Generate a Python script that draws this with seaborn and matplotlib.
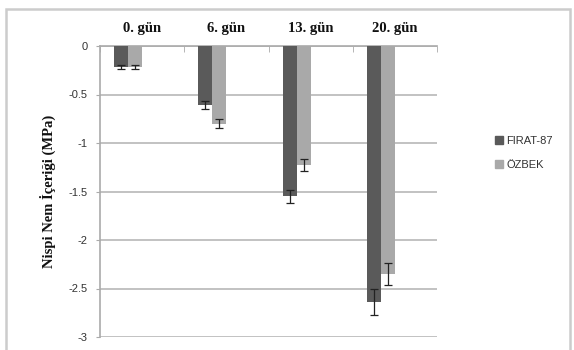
#Import the libraries : Pandas, Matplotlib and Seaborn
import pandas as pd
import matplotlib.pyplot as plt
import matplotlib.patches as mpatches
import seaborn as sns

#Chart data
days = ["0. gün", "6. gün", "13. gün", "20. gün"]
firat_values = [-0.22, -0.61, -1.55, -2.64]
firat_errors = [0.02, 0.04, 0.07, 0.13]
ozbek_values = [-0.22, -0.80, -1.23, -2.35]
ozbek_errors = [0.02, 0.05, 0.06, 0.11]
series = ["FIRAT-87", "ÖZBEK"]
colors = {"FIRAT-87": "#5a5a5a", "ÖZBEK": "#a9a9a9"}

#Build a long table for seaborn
data = pd.DataFrame({
	"day": days * 2,
	"value": firat_values + ozbek_values,
	"err": firat_errors + ozbek_errors,
	"series": [series[0]] * 4 + [series[1]] * 4,
})

sns.set_style("white")

fig = plt.figure(figsize=(5.74, 3.5), dpi=100)
ax = fig.add_axes([100 / 574, 1 - 337 / 350, 337 / 574, 291 / 350])

#Excel-like layout: two hidden slots keep the bars on the left half of each group
hue_order = series + ["_a", "_b"]
palette = dict(colors)
palette["_a"] = "white"
palette["_b"] = "white"
sns.barplot(data=data, x="day", y="value", hue="series", hue_order=hue_order,
	order=days, palette=palette, width=4 / 6, gap=0, errorbar=None,
	legend=False, ax=ax, saturation=1, linewidth=0, zorder=3)

#Error bars placed on the bars seaborn drew
bars = [p for p in ax.patches if p.get_height() != 0]
for bar in bars:
	cx = bar.get_x() + bar.get_width() / 2
	val = bar.get_y() + bar.get_height()
	row = data[(data["value"] == val)]
	err = row["err"].iloc[0]
	ax.errorbar(cx, val, yerr=err, fmt="none", ecolor="#222222",
		elinewidth=0.9, capsize=3, capthick=0.9, zorder=4)

ax.set_xlim(-0.5, 3.5)
ax.set_ylim(-3, 0)
ax.set_yticks([0, -0.5, -1, -1.5, -2, -2.5, -3])
ax.set_yticklabels(["0", "-0.5", "-1", "-1.5", "-2", "-2.5", "-3"],
	fontfamily="Liberation Sans", fontsize=8, color="#333333")
ax.yaxis.grid(True, color="#b8b8b8", linewidth=1.2, zorder=0)
ax.set_axisbelow(True)

#Category labels on top
ax.xaxis.tick_top()
ax.xaxis.set_label_position("top")
ax.set_xticks(range(4))
ax.set_xticklabels(days, fontfamily="Liberation Serif", fontweight="bold",
	fontsize=10.5, color="#111111")
ax.set_xticks([-0.5, 0.5, 1.5, 2.5, 3.5], minor=True)
ax.tick_params(axis="x", which="major", length=0, pad=8)
ax.tick_params(axis="x", which="minor", length=4, direction="in",
	color="#aaaaaa", top=True)
ax.tick_params(axis="y", length=3, color="#aaaaaa", left=True, pad=6)
ax.set_xlabel("")
ax.set_ylabel("Nispi Nem İçeriği (MPa)", fontfamily="Liberation Serif",
	fontweight="bold", fontsize=10.5, color="#111111", labelpad=9)

for side in ["right", "bottom"]:
	ax.spines[side].set_visible(False)
for side in ["top", "left"]:
	ax.spines[side].set_color("#aaaaaa")
	ax.spines[side].set_linewidth(1.2)

#Legend on the right
handles = [mpatches.Patch(color=colors[s], label=s) for s in series]
fig.legend(handles=handles, loc="center left", bbox_to_anchor=(485 / 574, 1 - 153 / 350),
	frameon=False, prop={"family": "Liberation Sans", "size": 8},
	handlelength=0.7, handleheight=0.7, handletextpad=0.3, labelspacing=1.3,
	labelcolor="#333333")

#Outer chart frame
frame = mpatches.Rectangle((6 / 574, -0.05), 564 / 574, 1 - 9 / 350 + 0.05,
	transform=fig.transFigure, fill=False, edgecolor="#cccccc", linewidth=1.8)
fig.patches.append(frame)

fig.savefig("out.png", dpi=100)
